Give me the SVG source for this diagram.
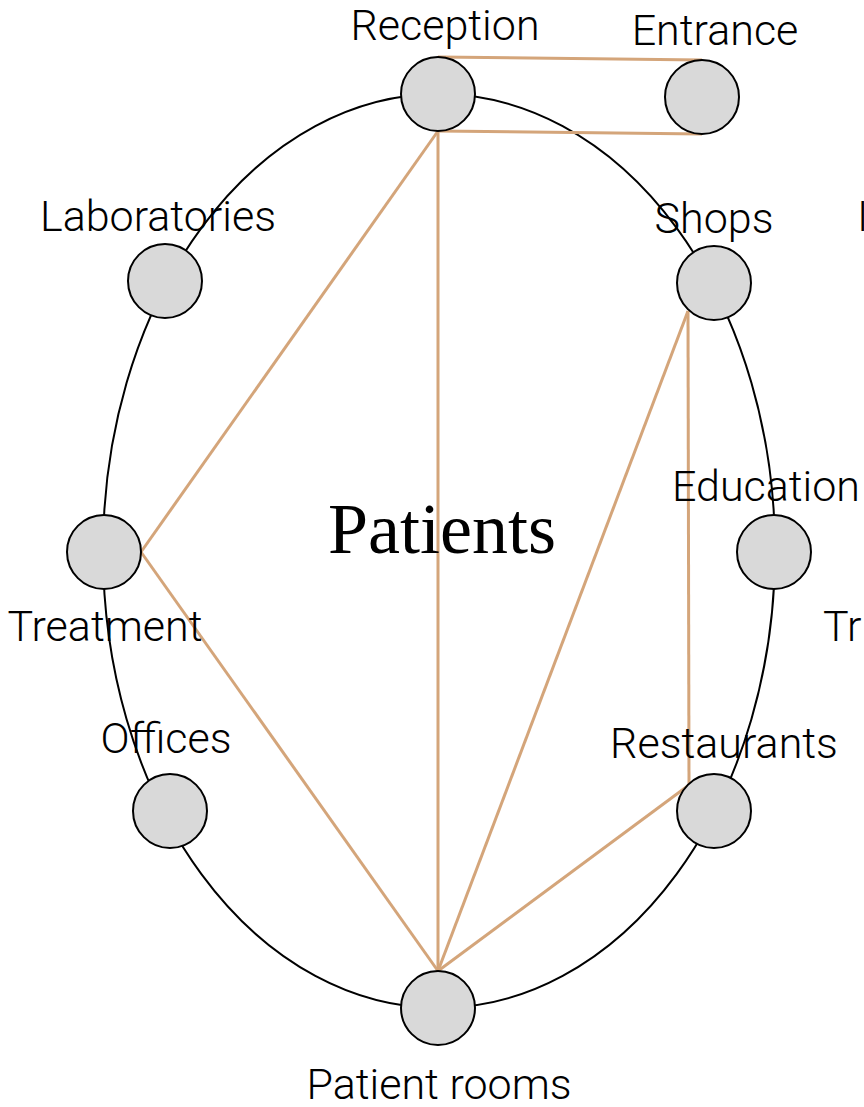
<svg xmlns="http://www.w3.org/2000/svg" width="864" height="1107" viewBox="0 0 864 1107">
<style>
.n{fill:#d9d9d9;stroke:#000;stroke-width:2}
.l{font-family:Roboto,"Liberation Sans",sans-serif;font-weight:300;font-size:43px;fill:#000;text-anchor:middle}
.e{stroke:#d4a57a;stroke-width:3;fill:none}
.t{font-family:"Liberation Serif","DejaVu Serif",serif;font-size:72px;fill:#000;text-anchor:middle}
</style>
<rect width="864" height="1107" fill="#fff"/>
<ellipse cx="439" cy="551" rx="336" ry="457" fill="none" stroke="#000" stroke-width="2"/>
<g id="connectors">
<line class="e" x1="438" y1="57" x2="702" y2="60"/>
<line class="e" x1="438" y1="131" x2="702" y2="134"/>
<line class="e" x1="438" y1="131" x2="141" y2="552"/>
<line class="e" x1="438" y1="131" x2="438" y2="971"/>
<line class="e" x1="141" y1="552" x2="438" y2="971"/>
<line class="e" x1="688" y1="311" x2="438" y2="971"/>
<line class="e" x1="688" y1="311" x2="689" y2="785"/>
<line class="e" x1="689" y1="785" x2="438" y2="971"/>
</g>
<text class="t" x="442" y="553">Patients</text>
<g id="reception"><circle class="n" cx="438" cy="94" r="37"/><text class="l" x="445" y="40">Reception</text></g>
<g id="entrance"><circle class="n" cx="702" cy="97" r="37"/><text class="l" x="715" y="45">Entrance</text></g>
<g id="laboratories"><circle class="n" cx="165" cy="281" r="37"/><text class="l" x="158" y="231">Laboratories</text></g>
<g id="shops"><circle class="n" cx="714" cy="283" r="37"/><text class="l" x="714" y="233">Shops</text></g>
<g id="treatment"><circle class="n" cx="104" cy="552" r="37"/><text class="l" x="105" y="641">Treatment</text></g>
<g id="education"><circle class="n" cx="774" cy="552" r="37"/><text class="l" x="766" y="501">Education</text></g>
<g id="offices"><circle class="n" cx="170" cy="811" r="37"/><text class="l" x="166" y="753">Offices</text></g>
<g id="restaurants"><circle class="n" cx="714" cy="811" r="37"/><text class="l" x="724" y="758">Restaurants</text></g>
<g id="patient-rooms"><circle class="n" cx="438" cy="1008" r="37"/><text class="l" x="439" y="1099">Patient rooms</text></g>
<g id="offscreen-1"><text class="l" x="857" y="231" style="text-anchor:start">I</text></g>
<g id="offscreen-2"><text class="l" x="823" y="641" style="text-anchor:start">Tr</text></g>
</svg>
